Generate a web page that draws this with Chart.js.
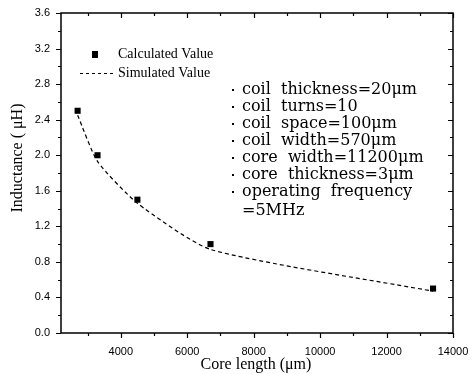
<!DOCTYPE html>
<html>
<head>
<meta charset="utf-8">
<script src="https://cdn.jsdelivr.net/npm/chart.js@4.4.1/dist/chart.umd.min.js"></script>
<style>
  html, body { margin: 0; padding: 0; background: #fff; }
  #wrap { width: 472px; height: 374px; position: relative; }
</style>
</head>
<body>
<div id="wrap"><canvas id="c" width="472" height="374"></canvas></div>
<script>
// Core length (µm) of each sample
const coreLength = [2700, 3300, 4500, 6700, 13400];
// Inductance (µH)
const calculatedValue = [2.50, 2.00, 1.50, 1.00, 0.50];
const simulatedValue = [2.45, 1.93, 1.46, 0.94, 0.47];

const seriesNames = ['Calculated Value', 'Simulated Value'];

// Axis ticks
const xTickValues = [4000, 6000, 8000, 10000, 12000, 14000];
const xTickLabels = ['4000', '6000', '8000', '10000', '12000', '14000'];
const xMinorValues = [3000, 5000, 7000, 9000, 11000, 13000];
const yTickValues = [0.0, 0.4, 0.8, 1.2, 1.6, 2.0, 2.4, 2.8, 3.2, 3.6];
const yTickLabels = ['0.0', '0.4', '0.8', '1.2', '1.6', '2.0', '2.4', '2.8', '3.2', '3.6'];
const yMinorValues = [0.2, 0.6, 1.0, 1.4, 1.8, 2.2, 2.6, 3.0, 3.4];

const xTitle = 'Core length (\u03bcm)';
const yTitle = 'Inductance ( \u03bcH)';

// Design parameters listed inside the plot
const notes = [
  'coil  thickness=20\u03bcm',
  'coil  turns=10',
  'coil  space=100\u03bcm',
  'coil  width=570\u03bcm',
  'core  width=11200\u03bcm',
  'core  thickness=3\u03bcm',
  'operating  frequency',
  '=5MHz'
];

const SERIF = '"Liberation Serif", "Times New Roman", serif';
const NOTE_FONT = '16px "DejaVu Serif", serif';
const TICK_FONT = '11px "Liberation Sans", Arial, sans-serif';

const toPoints = (xs, ys) => xs.map((x, i) => ({ x: x, y: ys[i] }));

// Frame, ticks, tick labels, titles, legend and notes
const decorations = {
  id: 'decorations',
  afterDraw(chart) {
    const ctx = chart.ctx;
    const a = chart.chartArea;
    const xs = chart.scales.x, ys = chart.scales.y;
    ctx.save();
    ctx.strokeStyle = '#000';
    ctx.fillStyle = '#000';

    // frame
    ctx.lineWidth = 1.5;
    ctx.strokeRect(a.left, a.top, a.right - a.left, a.bottom - a.top);

    // tick marks
    ctx.lineWidth = 1.2;
    ctx.beginPath();
    const xt = (v, len) => {
      const px = Math.round(xs.getPixelForValue(v)) + 0.5;
      ctx.moveTo(px, a.bottom); ctx.lineTo(px, a.bottom + len);
      ctx.moveTo(px, a.top); ctx.lineTo(px, a.top + len);
    };
    const yt = (v, len) => {
      const py = Math.round(ys.getPixelForValue(v)) + 0.5;
      ctx.moveTo(a.left, py); ctx.lineTo(a.left - len, py);
      ctx.moveTo(a.right, py); ctx.lineTo(a.right - len, py);
    };
    xTickValues.forEach(v => xt(v, 5));
    xMinorValues.forEach(v => xt(v, 3));
    yTickValues.forEach(v => yt(v, 5));
    yMinorValues.forEach(v => yt(v, 3));
    ctx.stroke();

    // tick labels
    ctx.font = TICK_FONT;
    ctx.textBaseline = 'middle';
    ctx.textAlign = 'center';
    xTickValues.forEach((v, i) => ctx.fillText(xTickLabels[i], xs.getPixelForValue(v), a.bottom + 19));
    ctx.textAlign = 'right';
    yTickValues.forEach((v, i) => ctx.fillText(yTickLabels[i], a.left - 11, ys.getPixelForValue(v)));

    // axis titles
    ctx.font = '16px ' + SERIF;
    ctx.textAlign = 'center';
    ctx.fillText(xTitle, 256, 365);
    ctx.save();
    ctx.translate(18, 158);
    ctx.rotate(-Math.PI / 2);
    ctx.fillText(yTitle, 0, 0);
    ctx.restore();

    // legend
    ctx.font = '14px ' + SERIF;
    ctx.textAlign = 'left';
    ctx.fillRect(92, 51, 6, 7);
    ctx.fillText(seriesNames[0], 118, 54);
    ctx.lineWidth = 1;
    ctx.setLineDash([3, 3]);
    ctx.beginPath();
    ctx.moveTo(80, 73.5); ctx.lineTo(116, 73.5);
    ctx.stroke();
    ctx.setLineDash([]);
    ctx.fillText(seriesNames[1], 118, 73);

    // parameter notes
    ctx.font = NOTE_FONT;
    notes.forEach((t, i) => {
      const y = 90 + i * 17 + (i === 7 ? 2 : 0);
      if (i < 7) ctx.fillRect(232, y - 1, 2, 2);
      ctx.fillText(t, 242, y);
    });
    ctx.restore();
  }
};

new Chart(document.getElementById('c'), {
  type: 'scatter',
  data: {
    datasets: [
      {
        label: seriesNames[0],
        data: toPoints(coreLength, calculatedValue),
        pointStyle: 'rect',
        pointRadius: 4.3,
        backgroundColor: '#000',
        borderColor: '#000',
        borderWidth: 0,
        showLine: false,
        order: 0
      },
      {
        label: seriesNames[1],
        data: toPoints(coreLength, simulatedValue),
        showLine: true,
        borderColor: '#000',
        borderWidth: 1.2,
        borderDash: [4, 3],
        pointRadius: 0,
        tension: 0.2,
        fill: false,
        order: 1
      }
    ]
  },
  options: {
    responsive: false,
    animation: false,
    layout: { padding: { left: 61, right: 19, top: 13, bottom: 41 } },
    plugins: { legend: { display: false }, tooltip: { enabled: false } },
    scales: {
      x: { type: 'linear', display: false, min: 2200, max: 14000 },
      y: { type: 'linear', display: false, min: 0, max: 3.6 }
    }
  },
  plugins: [decorations]
});
</script>
</body>
</html>
